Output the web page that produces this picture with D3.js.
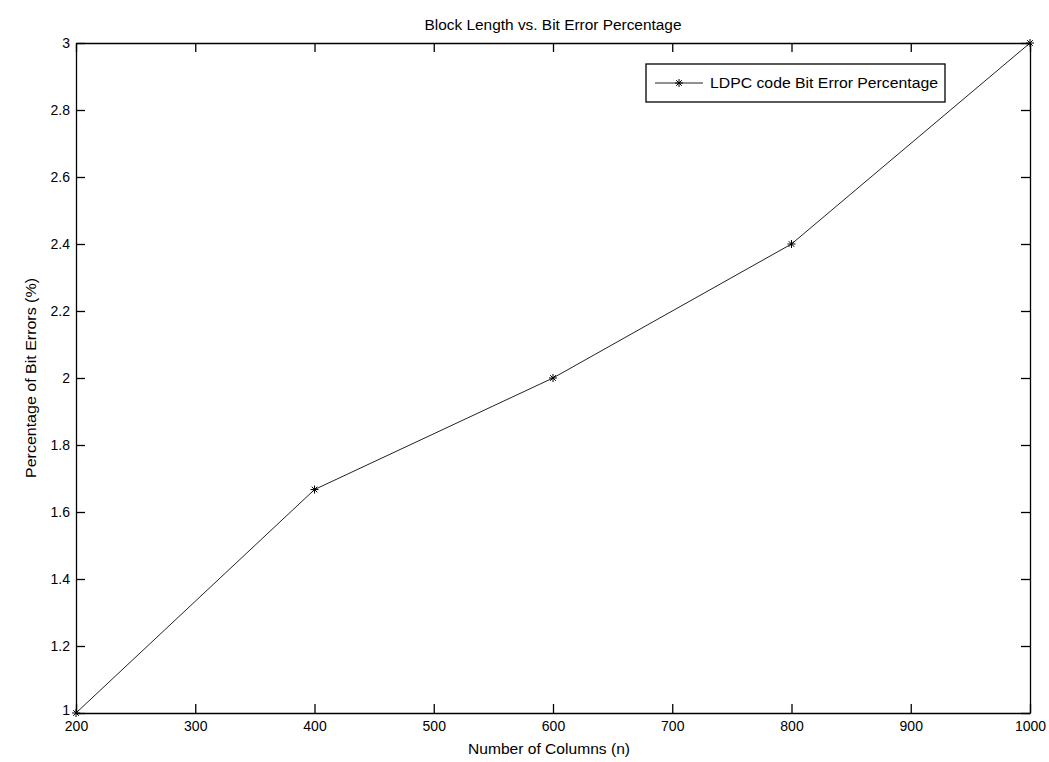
<!DOCTYPE html>
<html>
<head>
<meta charset="utf-8">
<script src="https://cdn.jsdelivr.net/npm/d3@7"></script>
<style>
  html, body { margin: 0; padding: 0; background: #fff; }
  svg { display: block; }
  text { font-family: "Liberation Sans", Arial, sans-serif; fill: #000; }
</style>
</head>
<body>
<svg id="chart" width="1049" height="762"></svg>
<script>
// Block length (number of columns) and measured bit error percentage
const columns = [200, 400, 600, 800, 1000];
const errorPct = [1, 1.667, 2, 2.4, 3];
const xTicks = [200, 300, 400, 500, 600, 700, 800, 900, 1000];
const yTicks = [1, 1.2, 1.4, 1.6, 1.8, 2, 2.2, 2.4, 2.6, 2.8, 3];
const titleText = "Block Length vs. Bit Error Percentage";
const xLabel = "Number of Columns (n)";
const yLabel = "Percentage of Bit Errors (%)";
const seriesName = "LDPC code Bit Error Percentage";

const svg = d3.select("#chart");
const plot = { left: 76, right: 1030, top: 43, bottom: 713 };

const x = d3.scaleLinear().domain([200, 1000]).range([plot.left, plot.right]);
const y = d3.scaleLinear().domain([1, 3]).range([plot.bottom, plot.top]);
const tickLen = 9;
const fmt = d => String(+d.toFixed(1));

// Box axes with inward ticks on all four sides
const axisBottom = d3.axisBottom(x).tickValues(xTicks).tickSizeInner(-tickLen).tickSizeOuter(0).tickPadding(8).tickFormat(d => d);
const axisTop = d3.axisTop(x).tickValues(xTicks).tickSizeInner(-tickLen).tickSizeOuter(0).tickFormat("");
const axisLeft = d3.axisLeft(y).tickValues(yTicks).tickSizeInner(-tickLen).tickSizeOuter(0).tickPadding(6).tickFormat(fmt);
const axisRight = d3.axisRight(y).tickValues(yTicks).tickSizeInner(-tickLen).tickSizeOuter(0).tickFormat("");

function styleAxis(g) {
  g.select(".domain").attr("stroke", "#000").attr("stroke-width", 1.3);
  g.selectAll(".tick line").attr("stroke", "#000").attr("stroke-width", 1.3);
  g.selectAll(".tick text").attr("font-size", 14).attr("font-family", "Liberation Sans, Arial, sans-serif").attr("fill", "#000");
}

svg.append("g").attr("transform", `translate(0,${plot.bottom})`).call(axisBottom).call(styleAxis);
svg.append("g").attr("transform", `translate(0,${plot.top})`).call(axisTop).call(styleAxis);
const leftAxis = svg.append("g").attr("transform", `translate(${plot.left},0)`).call(axisLeft).call(styleAxis);
svg.append("g").attr("transform", `translate(${plot.right},0)`).call(axisRight).call(styleAxis);

// lift the lowest y label slightly so it clears the corner x label
leftAxis.selectAll(".tick").filter(d => d === 1).select("text").attr("dy", "0.1em");

// Data line
const pts = columns.map((c, i) => [c, errorPct[i]]);
svg.append("path")
  .datum(pts)
  .attr("fill", "none")
  .attr("stroke", "#222")
  .attr("stroke-width", 1)
  .attr("d", d3.line().x(d => x(d[0])).y(d => y(d[1])));

// Star markers
function drawStar(g, cx, cy) {
  const s = 4;
  const gg = g.append("g").attr("transform", `translate(${cx},${cy})`)
    .attr("stroke", "#000").attr("stroke-width", 1);
  gg.append("line").attr("x1", -s).attr("x2", s).attr("y1", 0).attr("y2", 0);
  gg.append("line").attr("x1", 0).attr("x2", 0).attr("y1", -s).attr("y2", s);
  gg.append("line").attr("x1", -s * 0.7).attr("x2", s * 0.7).attr("y1", -s * 0.7).attr("y2", s * 0.7);
  gg.append("line").attr("x1", -s * 0.7).attr("x2", s * 0.7).attr("y1", s * 0.7).attr("y2", -s * 0.7);
}
const markers = svg.append("g");
pts.forEach(d => drawStar(markers, x(d[0]), y(d[1])));

// Title and axis labels
svg.append("text")
  .attr("x", (plot.left + plot.right) / 2).attr("y", 30)
  .attr("text-anchor", "middle").attr("font-size", 14)
  .attr("textLength", 257).attr("lengthAdjust", "spacingAndGlyphs")
  .text(titleText);

svg.append("text")
  .attr("x", 549).attr("y", 754)
  .attr("text-anchor", "middle").attr("font-size", 14)
  .attr("textLength", 162).attr("lengthAdjust", "spacingAndGlyphs")
  .text(xLabel);

svg.append("text")
  .attr("transform", `translate(36,${(plot.top + plot.bottom) / 2}) rotate(-90)`)
  .attr("text-anchor", "middle").attr("font-size", 14)
  .attr("textLength", 200).attr("lengthAdjust", "spacingAndGlyphs")
  .text(yLabel);

// Legend
const leg = svg.append("g");
leg.append("rect")
  .attr("x", 646).attr("y", 64).attr("width", 299).attr("height", 38)
  .attr("fill", "#fff").attr("stroke", "#000").attr("stroke-width", 1.3);
leg.append("line")
  .attr("x1", 655).attr("x2", 703).attr("y1", 83).attr("y2", 83)
  .attr("stroke", "#222").attr("stroke-width", 1);
drawStar(leg, 679, 83);
leg.append("text")
  .attr("x", 710).attr("y", 88).attr("font-size", 14)
  .attr("textLength", 228).attr("lengthAdjust", "spacingAndGlyphs")
  .text(seriesName);
</script>
</body>
</html>
